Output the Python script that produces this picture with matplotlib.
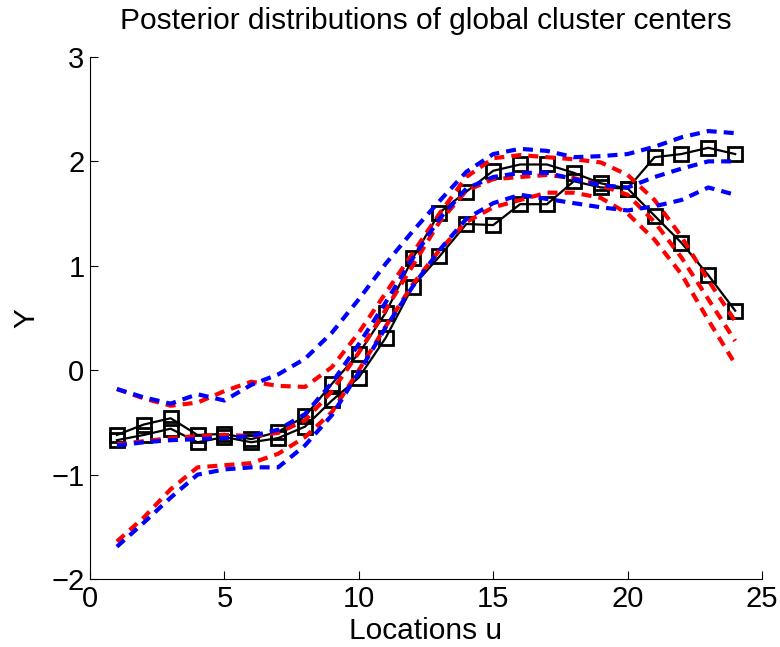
import matplotlib
matplotlib.use("Agg")
import matplotlib.pyplot as plt
import numpy as np

plt.rcParams['font.family'] = ['Liberation Sans', 'DejaVu Sans']

# locations
u = np.arange(1, 25)

# black lines: posterior means of the two global cluster centers
center1 = [-0.62, -0.52, -0.46, -0.62, -0.61, -0.66, -0.59, -0.44, -0.13, 0.16,
           0.55, 1.07, 1.51, 1.71, 1.91, 1.97, 1.97, 1.89, 1.79, 1.74,
           2.04, 2.07, 2.13, 2.07]
center2 = [-0.67, -0.62, -0.56, -0.69, -0.64, -0.69, -0.65, -0.54, -0.29, -0.07,
           0.31, 0.80, 1.09, 1.40, 1.39, 1.59, 1.59, 1.81, 1.75, 1.74,
           1.48, 1.22, 0.91, 0.57]

# red dashed curves
red_hi = [-0.18, -0.27, -0.34, -0.31, -0.20, -0.11, -0.15, -0.16, 0.03, 0.36,
          0.74, 1.12, 1.50, 1.85, 2.03, 2.06, 2.04, 2.02, 1.99, 1.87,
          1.63, 1.28, 0.86, 0.47]
red_mid = [-0.71, -0.68, -0.65, -0.63, -0.62, -0.63, -0.60, -0.48, -0.20, 0.17,
           0.58, 1.00, 1.42, 1.72, 1.83, 1.85, 1.87, 1.84, 1.77, 1.68,
           1.42, 1.08, 0.68, 0.28]
red_lo = [-1.64, -1.41, -1.14, -0.93, -0.91, -0.89, -0.80, -0.64, -0.40, 0.00,
          0.42, 0.82, 1.15, 1.42, 1.56, 1.63, 1.70, 1.70, 1.65, 1.50,
          1.25, 0.92, 0.48, 0.06]

# blue dashed curves
blue_hi = [-0.18, -0.26, -0.32, -0.23, -0.29, -0.14, -0.04, 0.11, 0.36, 0.68,
           1.02, 1.33, 1.62, 1.90, 2.07, 2.12, 2.10, 2.04, 2.05, 2.07,
           2.14, 2.23, 2.29, 2.27]
blue_mid = [-0.72, -0.69, -0.67, -0.66, -0.65, -0.63, -0.57, -0.42, -0.12, 0.25,
            0.65, 1.07, 1.45, 1.74, 1.85, 1.89, 1.89, 1.83, 1.77, 1.75,
            1.85, 1.93, 2.00, 2.00]
blue_lo = [-1.69, -1.46, -1.22, -1.00, -0.95, -0.93, -0.93, -0.72, -0.43, -0.02,
           0.41, 0.80, 1.15, 1.45, 1.60, 1.68, 1.64, 1.60, 1.56, 1.53,
           1.57, 1.63, 1.75, 1.68]

fig = plt.figure(figsize=(7.8, 6.47), dpi=100)
ax = fig.add_axes([0.1154, 0.105, 0.8616, 0.807])

ax.plot(u, center1, 'k-s', lw=1.6, ms=10, mfc='none', mew=2)
ax.plot(u, center2, 'k-s', lw=1.6, ms=10, mfc='none', mew=2)

for c in (red_hi, red_mid, red_lo):
    ax.plot(u, c, '--', color='#ff0000', lw=3, dashes=(2.4, 1.7))
for c in (blue_hi, blue_mid, blue_lo):
    ax.plot(u, c, '--', color='#0000ff', lw=3, dashes=(2.4, 1.7))

ax.set_xlim(0, 25)
ax.set_ylim(-2, 3)
ax.set_xticks([0, 5, 10, 15, 20, 25])
ax.set_yticks([-2, -1, 0, 1, 2, 3])
ax.set_yticklabels(['\u22122', '\u22121', '0', '1', '2', '3'])
ax.spines['top'].set_visible(False)
ax.spines['right'].set_visible(False)
ax.tick_params(direction='in', length=6, labelsize=21, pad=4)

ax.set_title('Posterior distributions of global cluster centers', fontsize=21.5, pad=20)
ax.set_xlabel('Locations u', fontsize=21.5, labelpad=3)
ax.set_ylabel('Y', fontsize=21.5, labelpad=8)

fig.savefig('out.png', dpi=100)
